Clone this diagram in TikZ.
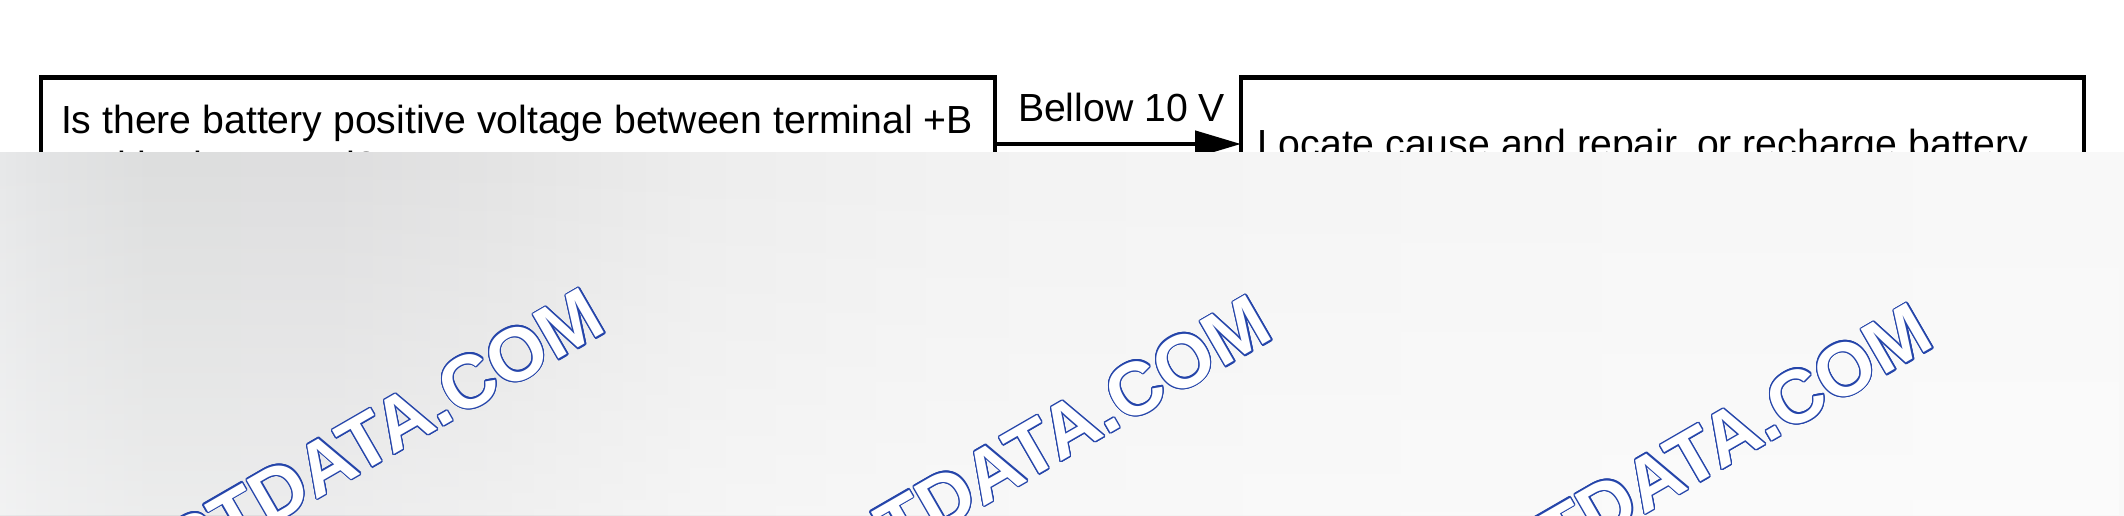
\documentclass[tikz,border=0pt]{standalone}
\usepackage{fontspec}
\setmainfont{Liberation Sans}
\usetikzlibrary{arrows.meta,fadings}
\definecolor{wmblue}{HTML}{2545AA}
\definecolor{g0}{HTML}{E7E8E9}
\definecolor{g1}{HTML}{E3E4E5}
\definecolor{g2}{HTML}{DDDEDE}
\definecolor{g3}{HTML}{DEDEDF}
\definecolor{g4}{HTML}{E4E4E4}
\definecolor{g5}{HTML}{EDEDED}
\definecolor{g6}{HTML}{F2F2F2}
\definecolor{g7}{HTML}{F5F5F5}
\definecolor{g8}{HTML}{F7F7F7}
\definecolor{g9}{HTML}{F8F8F8}
\tikzfading[name=lightbottom, top color=transparent!100, bottom color=transparent!55]
\newcommand\wmark[3]{%
  \foreach \a [count=\i] in {0,22.5,...,337.5}{
    \node[wm, text=wmblue] (#3o\i) at ([shift={(\a:1.3)}]#1,#2) {TDATA.COM};
    \node[wmpre, text=wmblue] (#3p\i) at ([shift={(\a:1.3)}]#1,#2) {R};
  }
  \node[wm, text=white] (#3f) at (#1,#2) {TDATA.COM};
  \node[wmpre, text=white] (#3g) at (#1,#2) {R};
}
\begin{document}
\begin{tikzpicture}[x=1pt,y=1pt,
  box/.style={draw, line width=4.5pt, inner sep=0pt, outer sep=0pt},
  txt/.style={anchor=base west, inner sep=0pt, outer sep=0pt, font=\fontsize{39.2}{45}\selectfont},
  link/.style={line width=4.5pt, -{Triangle[length=46pt,width=26pt]}},
  wm/.style={anchor=base west, inner sep=0pt, outer sep=0pt, rotate=30, font=\fontsize{75}{80}\selectfont\bfseries},
  wmpre/.style={wm, anchor=base east},
]
\clip (0,0) rectangle (2124,515);
\fill[white] (0,0) rectangle (2124,515);
% flowchart
\node[box, minimum width=954pt, minimum height=180pt] (q) at (518,347.5) {};
\node[box, minimum width=843pt, minimum height=180pt] (a) at (1662.5,347.5) {};
\node[txt] (q1) at (61,381) {Is there battery positive voltage between terminal +B};
\node[txt] (q2) at (61,336) {and body ground?};
\node[txt] (a1) at (1257,357) {Locate cause and repair, or recharge battery};
\draw[link] ([yshift=-66.5pt]q.north east) -- ([yshift=-66.5pt]a.north west);
\node[txt] (lbl) at (1018,393) {Bellow 10 V};
% grey overlay band
\foreach \xa/\xb/\ca/\cb in {0/40/g0/g1, 40/150/g1/g2, 150/330/g2/g3, 330/500/g3/g4, 500/700/g4/g5, 700/950/g5/g6, 950/1300/g6/g7, 1300/1700/g7/g8, 1700/2124/g8/g9}
  \shade[left color=\ca, right color=\cb] (\xa,0) rectangle ({\xb+0.8},362);
\fill[white, path fading=lightbottom] (0,0) rectangle (2124,362);
% watermarks
\wmark{229}{-35}{wa}
\wmark{896}{-42}{wb}
\wmark{1557}{-50}{wc}
\end{tikzpicture}
\end{document}
